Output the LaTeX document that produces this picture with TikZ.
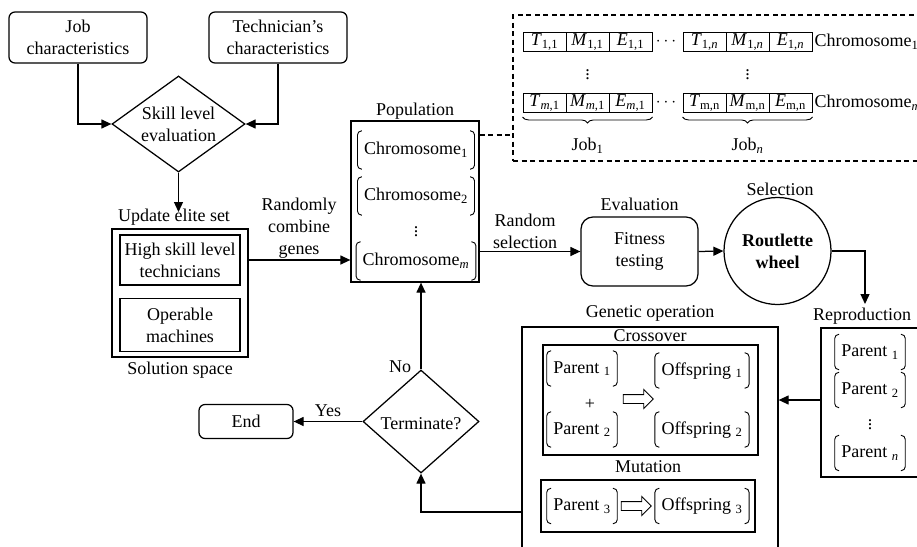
\documentclass[tikz,border=0pt]{standalone}
\usepackage{fontspec}
\setmainfont{Liberation Serif}
\usetikzlibrary{arrows.meta,shapes.geometric,shapes.arrows,decorations.pathreplacing,calc}

% rounded brackets on both sides of a node
\newcommand\bracketize[1]{%
  \draw[line width=0.9pt, rounded corners=4pt]
    ([xshift=4.5pt]#1.north west) -- (#1.north west) -- (#1.south west) -- ([xshift=4.5pt]#1.south west)
    ([xshift=-4.5pt]#1.north east) -- (#1.north east) -- (#1.south east) -- ([xshift=-4.5pt]#1.south east);}

\begin{document}
\begin{tikzpicture}[x=1pt,y=-1pt,
  font=\fontsize{18}{22}\selectfont,
  line width=1.25pt,
  arr/.style={-{Triangle[length=10pt,width=9pt]}},
  rbox/.style={draw, rounded corners=6pt, align=center, inner sep=0},
  sbox/.style={draw, align=center, inner sep=0},
  txt/.style={align=center, inner sep=0},
  cell/.style={draw, line width=0.9pt, minimum width=43, minimum height=19, inner sep=0},
  brk/.style={inner xsep=6pt, inner ysep=10pt, text height=13pt, text depth=4pt},
  pbrk/.style={brk, inner ysep=8.5pt},
  hollow/.style={single arrow, draw, line width=0.9pt, minimum height=30,
    single arrow head extend=5pt, inner xsep=0, inner ysep=4pt},
  dsh/.style={line width=1.1pt, dash pattern=on 5pt off 3.5pt},
]
\useasboundingbox (0,0) rectangle (917,546);
\clip (0,0) rectangle (917,546);

% ---- inputs and skill evaluation
\node[rbox, minimum width=138, minimum height=51] (job) at (78,37.5) {Job\\characteristics};
\node[rbox, minimum width=138, minimum height=51] (tech) at (278,37.5) {Technician’s\\characteristics};
\node[diamond, draw, aspect=1.385, minimum width=133, minimum height=96, inner sep=0] (skill) at (178.5,124) {};
\node[txt] (skilltxt) at (skill) {Skill level\\evaluation};
\draw[arr] (job.south) |- (skill.west);
\draw[arr] (tech.south) |- (skill.east);

% ---- solution space
\node[txt] (upd) at (174,217) {Update elite set};
\coordinate (updtip) at (178.5,212);
\draw[arr] (skill.south) -- (updtip);
\node[sbox, minimum width=136, minimum height=128] (sol) at (180,293) {};
\node[sbox, minimum width=120, minimum height=50] (hi) at (180,260) {High skill level\\technicians};
\node[sbox, minimum width=120, minimum height=53] (mach) at (180,325) {Operable\\machines};
\node[txt] (solspace) at (180,370) {Solution space};

% ---- population
\node[txt] (poplabel) at (415,111) {Population};
\node[sbox, minimum width=128, minimum height=161] (pop) at (415,201.5) {};
\node[brk] (c1) at (416,150) {Chromosome\textsubscript{1}};
\node[brk] (c2) at (416,196) {Chromosome\textsubscript{2}};
\node[txt] (cdots) at (416,229) {$\vdots$};
\node[brk] (cm) at (416,261) {Chromosome\textsubscript{\textit{m}}};
\bracketize{c1}\bracketize{c2}\bracketize{cm}
\node[txt] (rcg) at (299,228) {Randomly\\combine\\genes};
\draw[arr] (sol.east |- hi) -- (pop.west |- hi);

% ---- chromosome encoding
\node[draw, dsh, minimum width=412, minimum height=146, inner sep=0] (chrbox) at (719,88) {};
\coordinate (dshy) at (0,135);
\draw[dsh] (pop.east |- dshy) -- (chrbox.west |- dshy);
\node[cell] (t11) at (544.5,42) {\textit{T}\textsubscript{1,1}};
\node[cell] (m11) at (587.5,42) {\textit{M}\textsubscript{1,1}};
\node[cell] (e11) at (630.5,42) {\textit{E}\textsubscript{1,1}};
\node[cell] (t1n) at (704.5,42) {\textit{T}\textsubscript{1,\textit{n}}};
\node[cell] (m1n) at (747.5,42) {\textit{M}\textsubscript{1,\textit{n}}};
\node[cell] (e1n) at (790.5,42) {\textit{E}\textsubscript{1,\textit{n}}};
\node[cell] (tm1) at (544.5,103) {\textit{T}\textsubscript{\textit{m},1}};
\node[cell] (mm1) at (587.5,103) {\textit{M}\textsubscript{\textit{m},1}};
\node[cell] (em1) at (630.5,103) {\textit{E}\textsubscript{\textit{m},1}};
\node[cell] (tmn) at (704.5,103) {\textit{T}\textsubscript{m,n}};
\node[cell] (mmn) at (747.5,103) {\textit{M}\textsubscript{m,n}};
\node[cell] (emn) at (790.5,103) {\textit{E}\textsubscript{m,n}};
\node[txt] (hd1) at (666,42) {$\cdots$};
\node[txt] (hd2) at (666,103) {$\cdots$};
\node[txt] (vd1) at (587.5,72) {$\vdots$};
\node[txt] (vd2) at (747.5,72) {$\vdots$};
\node[txt, anchor=west] (chlab1) at (814,42) {Chromosome\textsubscript{1}};
\node[txt, anchor=west] (chlabm) at (814,103) {Chromosome\textsubscript{\textit{m}}};
\draw[line width=0.9pt, decorate, decoration={brace, mirror, amplitude=6pt}]
  ([yshift=-4pt]tm1.south west) -- ([yshift=-4pt]em1.south east);
\draw[line width=0.9pt, decorate, decoration={brace, mirror, amplitude=6pt}]
  ([yshift=-4pt]tmn.south west) -- ([yshift=-4pt]emn.south east);
\node[txt] (job1) at (587.5,146) {Job\textsubscript{1}};
\node[txt] (jobn) at (747.5,146) {Job\textsubscript{\textit{n}}};

% ---- evaluation and selection
\node[txt] (evallab) at (639.5,204) {Evaluation};
\node[draw, rounded corners=12pt, align=center, inner sep=0, minimum width=117, minimum height=69] (fit) at (639.5,251.5) {Fitness\\testing};
\node[txt] (rsel) at (525,231) {Random\\selection};
\draw[arr] (pop.east |- fit.west) -- (fit.west);
\node[txt] (sellab) at (780,189) {Selection};
\node[circle, draw, minimum size=107, inner sep=0, align=center, font=\fontsize{18}{22}\selectfont\bfseries] (wheel) at (777.5,251) {Routlette\\wheel};
\draw[arr] (fit.east) -- (wheel.west);

% ---- reproduction
\node[txt] (replab) at (862,316) {Reproduction};
\coordinate (reptip) at (865,304);
\draw[arr] (wheel.east) -| (reptip);
\node[sbox, minimum width=99, minimum height=149] (rep) at (870.5,402.5) {};
\node[pbrk] (r1) at (870,352) {Parent \textsubscript{1}};
\node[pbrk] (r2) at (870,390) {Parent \textsubscript{2}};
\node[txt] (rdots) at (870,422) {$\vdots$};
\node[pbrk] (rn) at (870,453) {Parent \textsubscript{\textit{n}}};
\bracketize{r1}\bracketize{r2}\bracketize{rn}

% ---- genetic operation
\node[txt] (genlab) at (650,313) {Genetic operation};
\node[sbox, minimum width=256, minimum height=240] (gen) at (650,447) {};
\coordinate (repy) at (0,400);
\draw[arr] (rep.west |- repy) -- (gen.east |- repy);
\node[txt] (crosslab) at (650,336) {Crossover};
\node[sbox, minimum width=215, minimum height=110] (cross) at (650.5,400) {};
\node[pbrk] (pa1) at (582,368.5) {Parent \textsubscript{1}};
\node[pbrk] (of1) at (702,370.5) {Offspring \textsubscript{1}};
\node[txt] (plus) at (590,404) {+};
\node[hollow] (xarrow) at (636,399) {};
\node[pbrk] (pa2) at (582,429.5) {Parent \textsubscript{2}};
\node[pbrk] (of2) at (702,429.5) {Offspring \textsubscript{2}};
\bracketize{pa1}\bracketize{of1}\bracketize{pa2}\bracketize{of2}
\node[txt] (mutlab) at (648,467) {Mutation};
\node[sbox, minimum width=214, minimum height=52] (mut) at (648,506) {};
\node[pbrk] (pa3) at (582,506) {Parent \textsubscript{3}};
\node[hollow] (marrow) at (634,506) {};
\node[pbrk] (of3) at (702,506) {Offspring \textsubscript{3}};
\bracketize{pa3}\bracketize{of3}

% ---- termination test
\node[diamond, draw, aspect=1.126, minimum width=116, minimum height=103, inner sep=0] (term) at (421,421.5) {};
\node[txt] (termtxt) at (421,424) {Terminate?};
\node[rbox, minimum width=94, minimum height=34] (end) at (246,421.5) {End};
\draw[arr] (term.west) -- (end.east);
\node[txt] (yes) at (328,411) {Yes};
\node[txt] (no) at (400,367) {No};
\draw[arr] (term.north) -- (term.north |- pop.south);
\coordinate (geny) at (0,512);
\draw[arr] (gen.west |- geny) -| (term.south);
\end{tikzpicture}
\end{document}
